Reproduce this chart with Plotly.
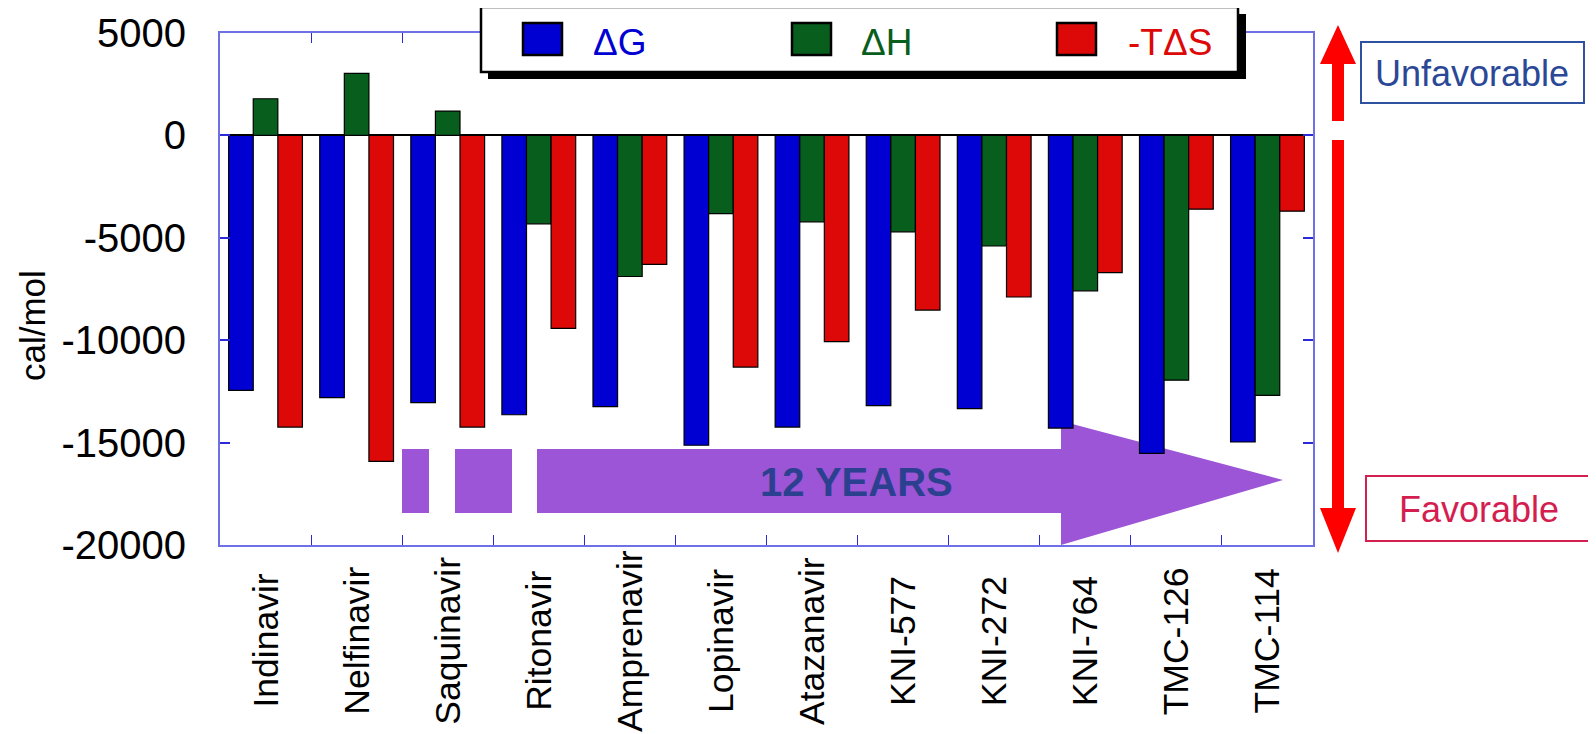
import plotly.graph_objects as go

categories = ["Indinavir", "Nelfinavir", "Saquinavir", "Ritonavir", "Amprenavir", "Lopinavir",
              "Atazanavir", "KNI-577", "KNI-272", "KNI-764", "TMC-126", "TMC-114"]
dG = [-12450, -12800, -13050, -13640, -13240, -15130, -14240, -13190, -13340, -14290, -15530, -14970]
dH = [1790, 3030, 1190, -4320, -6890, -3820, -4220, -4710, -5400, -7590, -11950, -12690]
mTdS = [-14240, -15920, -14240, -9420, -6300, -11310, -10070, -8530, -7890, -6700, -3600, -3700]
series_names = ["ΔG", "ΔH", "-TΔS"]
series_colors = ["#0000d2", "#085e1c", "#dd0808"]
y_ticks = [5000, 0, -5000, -10000, -15000, -20000]
y_tick_text = ["5000", "0", "-5000", "-10000", "-15000", "-20000"]

FONT = "Liberation Sans, Arial, sans-serif"
W, H = 1596, 734
OFF = 8  # page body margin: screenshot coords = figure coords + 8
L, R, T, B = 220 - OFF, 1313 - OFF, 33 - OFF, 545 - OFF

def px(x):
    return (x - OFF - L) / (R - L)

def py(y):
    return (B - (y - OFF)) / (B - T)

def path(points):
    return "M " + " L ".join(f"{px(x):.5f},{py(y):.5f}" for x, y in points) + " Z"

fig = go.Figure()
for name, vals, col in zip(series_names, [dG, dH, mTdS], series_colors):
    fig.add_trace(go.Bar(x=categories, y=vals, name=name, marker_color=col,
                         marker_line_color="black", marker_line_width=1.2, showlegend=False))

axis_blue = "#7070e6"
tick_blue = "#2a2ad6"
fig.update_layout(
    template="none",
    width=W, height=H,
    margin=dict(l=L, r=W - R, t=T, b=H - B, autoexpand=False),
    paper_bgcolor="white", plot_bgcolor="white",
    barmode="group", bargap=0.19, bargroupgap=0,
    font=dict(family=FONT, color="black"),
    xaxis=dict(automargin=False, showline=True, linecolor=axis_blue, linewidth=2, mirror="ticks",
               ticks="inside", tickson="boundaries", ticklen=10, tickcolor=tick_blue, tickwidth=1,
               showticklabels=False, showgrid=False),
    yaxis=dict(automargin=False, range=[-20000, 5000], tickvals=y_ticks, ticktext=y_tick_text,
               showline=True, linecolor=axis_blue,
               linewidth=2, mirror="ticks", ticks="inside", ticklen=10, tickcolor=tick_blue,
               tickwidth=1.5, tickfont=dict(size=40, family=FONT), ticklabelstandoff=24,
               showgrid=False, zeroline=True, zerolinecolor="black", zerolinewidth=1.5),
)

shapes = []
annotations = []

# Category labels, rotated and centred below the axis
for cat in categories:
    annotations.append(dict(xref="x", yref="paper", x=cat, y=py(641), text=cat, textangle=-90,
                            xanchor="center", yanchor="middle", showarrow=False,
                            font=dict(size=35.5, color="black", family=FONT)))

purple = "#9b55d6"
# Purple "12 YEARS" arrow
for x0, x1 in [(402, 429), (455, 512)]:
    shapes.append(dict(type="rect", xref="paper", yref="paper", x0=px(x0), x1=px(x1),
                       y0=py(513), y1=py(449), fillcolor=purple, line_width=0, layer="below"))
shapes.append(dict(type="path", xref="paper", yref="paper", layer="below",
                   path=path([(537, 449), (1061, 449), (1061, 421), (1283, 480), (1061, 545),
                              (1061, 513), (537, 513)]),
                   fillcolor=purple, line_width=0))
annotations.append(dict(xref="paper", yref="paper", x=px(857), y=py(482), text="<b>12 YEARS</b>",
                        xanchor="center", yanchor="middle",
                        showarrow=False, font=dict(size=40, color="#2b4190", family=FONT)))

# Legend box with shadow
shapes.append(dict(type="rect", xref="paper", yref="paper", x0=px(488), x1=px(1246),
                   y0=py(79), y1=py(14), fillcolor="black", line_width=0))
shapes.append(dict(type="rect", xref="paper", yref="paper", x0=px(481), x1=px(1238),
                   y0=py(72), y1=py(7), fillcolor="white", line=dict(color="black", width=2.5)))
sq_x = [523, 792, 1057]
tx_x = [591, 859, 1126]
for name, col, sx, tx in zip(series_names, series_colors, sq_x, tx_x):
    shapes.append(dict(type="rect", xref="paper", yref="paper", x0=px(sx), x1=px(sx + 39),
                       y0=py(55), y1=py(23), fillcolor=col, line=dict(color="black", width=2.5)))
    annotations.append(dict(xref="paper", yref="paper", x=px(tx), y=py(42), text=name,
                            xanchor="left", yanchor="middle", showarrow=False,
                            font=dict(size=37, color=col, family=FONT)))

# Red favorable/unfavorable arrows
red = "#ff0000"
cx = 1338
shapes.append(dict(type="path", xref="paper", yref="paper", fillcolor=red, line_width=0,
                   path=path([(cx, 25), (cx + 18, 64), (cx + 6, 64), (cx + 6, 121), (cx - 6, 121),
                              (cx - 6, 64), (cx - 18, 64)])))
shapes.append(dict(type="path", xref="paper", yref="paper", fillcolor=red, line_width=0,
                   path=path([(cx - 6, 140), (cx + 6, 140), (cx + 6, 508), (cx + 18, 508),
                              (cx, 553), (cx - 18, 508), (cx - 6, 508)])))

# Unfavorable / Favorable boxes
shapes.append(dict(type="rect", xref="paper", yref="paper", x0=px(1361), x1=px(1584),
                   y0=py(103), y1=py(42), fillcolor="white", line=dict(color="#2f52a0", width=2)))
annotations.append(dict(xref="paper", yref="paper", x=px(1472), y=py(73), text="Unfavorable",
                        xanchor="center", yanchor="middle",
                        showarrow=False, font=dict(size=36, color="#2b4896", family=FONT)))
shapes.append(dict(type="rect", xref="paper", yref="paper", x0=px(1366), x1=px(1594),
                   y0=py(541), y1=py(476), fillcolor="white", line=dict(color="#d42050", width=2)))
annotations.append(dict(xref="paper", yref="paper", x=px(1479), y=py(509), text="Favorable",
                        xanchor="center", yanchor="middle",
                        showarrow=False, font=dict(size=36, color="#d41e50", family=FONT)))

# Y axis title
annotations.append(dict(xref="paper", yref="paper", x=px(32), y=py(326), text="cal/mol",
                        xanchor="center", yanchor="middle",
                        textangle=-90, showarrow=False, font=dict(size=35, color="black", family=FONT)))

fig.update_layout(shapes=shapes, annotations=annotations)
fig.write_html("out.html")
